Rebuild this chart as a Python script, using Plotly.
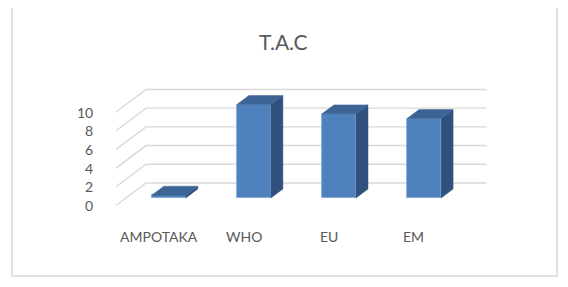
import plotly.graph_objects as go

categories = ["AMPOTAKA", "WHO", "EU", "EM"]
values = [0.3, 10.0, 9.0, 8.5]
y_ticks = [0, 2, 4, 6, 8, 10]
title_text = "T.A.C"

# pseudo-3D geometry (data units)
BAR_W = 0.4
FRONT_DX, FRONT_DY = 0.12, 0.80     # bar front face offset from front plane
DEPTH_DX, DEPTH_DY = 0.141, 0.96    # bar depth
WALL_DX, WALL_DY = 0.3525, 2.41     # back wall offset
X0, X1 = -0.5, len(categories) - 0.5

FRONT_C = "#4F81BD"
TOP_C = "#3C6595"
SIDE_C = "#30517E"
GRID_C = "#D9D9D9"
TEXT_C = "#595959"
FONT = "Lato"

fig = go.Figure()

# gridlines: side wall + back wall, drawn below the bars
for v in y_ticks:
    fig.add_shape(type="path", xref="x", yref="y", layer="below",
                  path=f"M{X0},{v} L{X0 + WALL_DX},{v + WALL_DY} L{X1 + WALL_DX},{v + WALL_DY}",
                  line=dict(color=GRID_C, width=1.4))

for i, v in enumerate(values):
    xl = i + FRONT_DX - BAR_W / 2
    xr = i + FRONT_DX + BAR_W / 2
    yb = FRONT_DY
    yt = FRONT_DY + v
    # side face
    fig.add_trace(go.Scatter(
        x=[xr, xr + DEPTH_DX, xr + DEPTH_DX, xr, xr],
        y=[yb, yb + DEPTH_DY, yt + DEPTH_DY, yt, yb],
        mode="lines", fill="toself", fillcolor=SIDE_C,
        line=dict(color=SIDE_C, width=0.5), hoverinfo="skip", showlegend=False))
    # top face
    fig.add_trace(go.Scatter(
        x=[xl, xr, xr + DEPTH_DX, xl + DEPTH_DX, xl],
        y=[yt, yt, yt + DEPTH_DY, yt + DEPTH_DY, yt],
        mode="lines", fill="toself", fillcolor=TOP_C,
        line=dict(color=TOP_C, width=0.5), hoverinfo="skip", showlegend=False))

# front faces
fig.add_trace(go.Bar(
    x=[i + FRONT_DX for i in range(len(categories))],
    y=values, base=FRONT_DY, width=BAR_W,
    marker=dict(color=FRONT_C, line=dict(color="#7FA6D6", width=0.8)),
    hoverinfo="skip", showlegend=False))

# tick labels
for v in y_ticks:
    fig.add_annotation(x=X0, y=v, xref="x", yref="y", text=str(v),
                       showarrow=False, xanchor="right", xshift=-21,
                       font=dict(family=FONT, size=14, color=TEXT_C))
for i, c in enumerate(categories):
    fig.add_annotation(x=i, y=0, xref="x", yref="y", text=c,
                       showarrow=False, yshift=-31,
                       font=dict(family=FONT, size=14, color=TEXT_C))

# page body has an 8px margin: figure drawn 8px in from the window corner
OFF = 8
W, H = 568 - OFF, 287 - OFF
PXC, PX0 = 85.1, 158.55 - OFF
PYU, PY0 = 9.35, 205.5 - OFF
xr0 = (0 - PX0) / PXC
xr1 = (W - PX0) / PXC
yr1 = (PY0 - 0) / PYU
yr0 = (PY0 - H) / PYU

fig.add_shape(type="rect", xref="paper", yref="paper",
              x0=(12 - OFF) / W, x1=(557 - OFF) / W,
              y0=1 - (276 - OFF) / H, y1=1 - (6 - OFF) / H,
              line=dict(color=GRID_C, width=1.5))

fig.add_annotation(x=(283 - OFF) / W, y=1 - (41 - OFF) / H, xref="paper", yref="paper",
                   text=title_text, showarrow=False, xanchor="center", yanchor="middle",
                   font=dict(family=FONT, size=21, color=TEXT_C))

fig.update_layout(
    width=W, height=H,
    margin=dict(l=0, r=0, t=0, b=0),
    paper_bgcolor="white", plot_bgcolor="white",
    xaxis=dict(range=[xr0, xr1], visible=False, fixedrange=True),
    yaxis=dict(range=[yr0, yr1], visible=False, fixedrange=True),
    showlegend=False,
    bargap=0,
)

fig.write_html("out.html")
